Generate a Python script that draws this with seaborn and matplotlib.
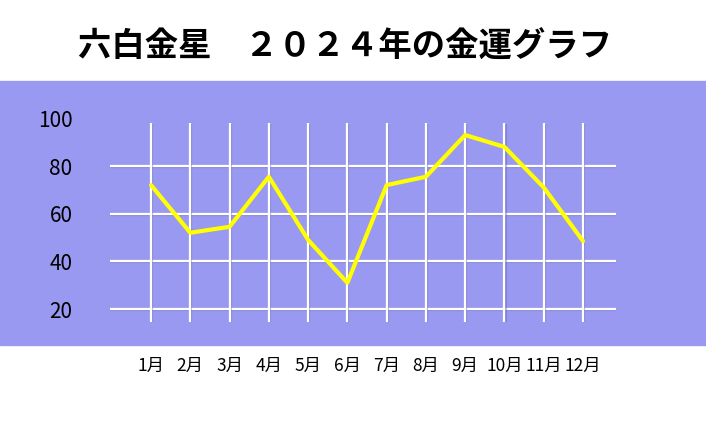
import pandas as pd
import seaborn as sns
import matplotlib.pyplot as plt
import matplotlib.patheffects as pe
from matplotlib.patches import Rectangle

# data
months = ['1月', '2月', '3月', '4月', '5月', '6月', '7月', '8月', '9月', '10月', '11月', '12月']
luck = [72, 52, 54.5, 75.5, 49, 31, 72, 75.5, 93, 88, 71, 48.5]
yticks = [20, 40, 60, 80, 100]
title = '六白金星　２０２４年の金運グラフ'

df = pd.DataFrame({'month': months, 'luck': luck})

sns.set_theme(style='white')
plt.rcParams['font.family'] = ['Noto Sans CJK JP', 'DejaVu Sans']

band = '#9999f2'
fig = plt.figure(figsize=(7.06, 4.23), dpi=100)
fig.patch.set_facecolor('white')

# blue band behind the plot
fig.patches.append(Rectangle((0, 1 - 345 / 423), 1, 264 / 423,
                             transform=fig.transFigure, color=band, zorder=-5))

ax = fig.add_axes([110 / 706, 1 - 322 / 423, 506 / 706, 212 / 423])
ax.set_facecolor('none')

sns.lineplot(data=df, x='month', y='luck', sort=False, color='#ffff00',
             linewidth=3, ax=ax, zorder=5)

ax.set_xlim(-1.044, 11.84)
ax.set_ylim(14.55, 103.5)
ax.set_yticks(yticks)

shadow = [pe.SimpleLineShadow(offset=(0.8, -0.8), shadow_color='#7070b8', alpha=0.5),
          pe.Normal()]

ax.grid(axis='y', color='white', linewidth=1.6)
for gl in ax.get_ygridlines():
    gl.set_path_effects(shadow)
ax.get_ygridlines()[-1].set_visible(False)

vl = ax.vlines(range(len(months)), ax.get_ylim()[0], 98.05, color='white',
               linewidth=1.6, zorder=1)
vl.set_path_effects(shadow)

for s in ax.spines.values():
    s.set_visible(False)
ax.tick_params(axis='both', length=0, colors='black')
ax.tick_params(axis='y', pad=27, labelsize=15)
ax.tick_params(axis='x', pad=25, labelsize=12.5)
ax.set_xlabel('')
ax.set_ylabel('')

fig.text(345 / 706, 1 - 47 / 423, title, ha='center', va='center',
         fontsize=24, fontweight='bold', color='black')

fig.savefig('out.png', dpi=100)
